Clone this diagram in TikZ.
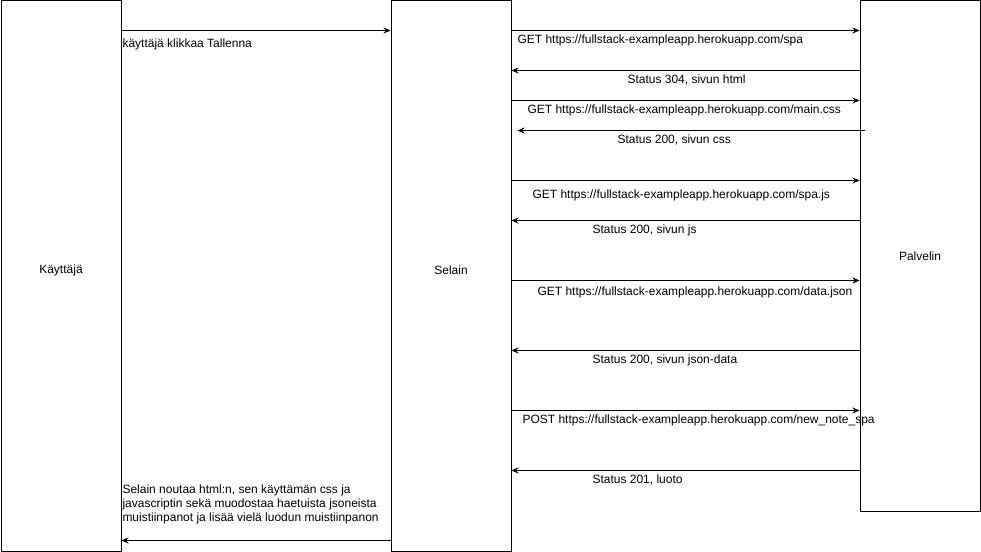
\documentclass[tikz,border=0pt]{standalone}
\usepackage{fontspec}
\setmainfont{Liberation Sans}
\usetikzlibrary{arrows.meta,positioning}

\begin{document}
\begin{tikzpicture}[x=1pt, y=-1pt, line width=1pt, font=\fontsize{12}{14}\selectfont,
        party/.style={rectangle, draw, minimum width=120pt, inner sep=0pt, anchor=north west},
        msg/.style={-{Stealth[length=7pt,width=6pt]}},
        lbl/.style={anchor=west, inner sep=0pt}]
        \useasboundingbox (0,0) rectangle (981,551);
        \node[party, minimum height=550pt] (kayttaja) at (0.5,0.5) {};
        \node[party, minimum height=550pt] (selain) at (390.5,0.5) {};
        \node[party, minimum height=510pt] (palvelin) at (859.5,0.5) {};
        \node (kayttajanimi) at ([yshift=6pt]kayttaja.center) {Käyttäjä};
        \node (selainnimi) at ([yshift=6pt]selain.center) {Selain};
        \node (palvelinnimi) at (palvelin.center) {Palvelin};

        \node[lbl] (klikkaus) at (122,44) {käyttäjä klikkaa Tallenna};
        \node[lbl] (getspa) at (517,40) {GET https://fullstack-exampleapp.herokuapp.com/spa};
        \node[lbl] (html) at (627,80) {Status 304, sivun html};
        \node[lbl] (getcss) at (527,110) {GET https://fullstack-exampleapp.herokuapp.com/main.css};
        \node[lbl] (css) at (617,140) {Status 200, sivun css};
        \node[lbl] (getjs) at (532,195) {GET https://fullstack-exampleapp.herokuapp.com/spa.js};
        \node[lbl] (js) at (592,230) {Status 200, sivun js};
        \node[lbl] (getjson) at (537,292) {GET https://fullstack-exampleapp.herokuapp.com/data.json};
        \node[lbl] (json) at (592,360) {Status 200, sivun json-data};
        \node[lbl] (post) at (522,420) {POST https://fullstack-exampleapp.herokuapp.com/new\_note\_spa};
        \node[lbl] (luotu) at (592,480) {Status 201, luoto};
        \node[lbl, align=left] (valmis) at (122,504) {Selain noutaa html:n, sen käyttämän css ja\\javascriptin sekä muodostaa haetuista jsoneista\\muistiinpanot ja lisää vielä luodun muistiinpanon};

        \draw[msg] ([yshift=-30pt]kayttaja.north east) -- ([yshift=-30pt]selain.north west);
        \draw[msg] ([yshift=-30pt]selain.north east) -- ([yshift=-30pt]palvelin.north west);
        \draw[msg] ([yshift=-70pt]palvelin.north west) -- ([yshift=-70pt]selain.north east);
        \draw[msg] ([yshift=-100pt]selain.north east) -- ([yshift=-100pt]palvelin.north west);
        \draw[msg] ([xshift=5pt, yshift=-130pt]palvelin.north west) -- ([xshift=6pt, yshift=-130pt]selain.north east);
        \draw[msg] ([yshift=-180pt]selain.north east) -- ([yshift=-180pt]palvelin.north west);
        \draw[msg] ([yshift=-220pt]palvelin.north west) -- ([yshift=-220pt]selain.north east);
        \draw[msg] ([yshift=-280pt]selain.north east) -- ([yshift=-280pt]palvelin.north west);
        \draw[msg] ([yshift=-350pt]palvelin.north west) -- ([yshift=-350pt]selain.north east);
        \draw[msg] ([yshift=-410pt]selain.north east) -- ([yshift=-410pt]palvelin.north west);
        \draw[msg] ([yshift=-470pt]palvelin.north west) -- ([yshift=-470pt]selain.north east);
        \draw[msg] ([yshift=-540pt]selain.north west) -- ([yshift=-540pt]kayttaja.north east);
    \end{tikzpicture}
\end{document}
